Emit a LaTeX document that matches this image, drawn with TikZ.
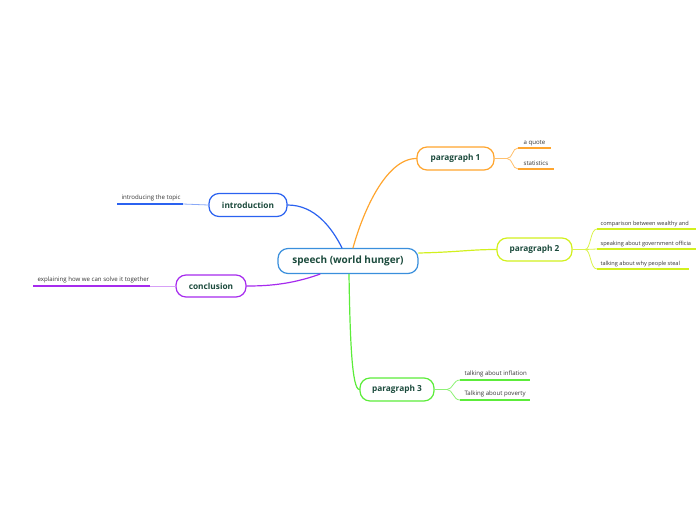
\documentclass[tikz,border=0pt]{standalone}
\usepackage{fontspec}
\setmainfont{Open Sans}
\definecolor{ink}{HTML}{1B4A3C}
\definecolor{leafink}{HTML}{333333}
\definecolor{cmain}{HTML}{3A8FDC}
\definecolor{cintro}{HTML}{2B62F0}
\definecolor{cconcl}{HTML}{A62BEE}
\definecolor{cpone}{HTML}{FFA52E}
\definecolor{cptwo}{HTML}{D2F01E}
\definecolor{cpthree}{HTML}{5CEC3A}

\begin{document}
\begin{tikzpicture}[x=1pt, y=-1pt, line width=1.2pt, line cap=round,
    topic/.style={draw, fill=white, rounded corners=10pt, minimum height=23pt,
      inner sep=0pt, text=ink, font=\bfseries\fontsize{8.3}{9}\selectfont},
    leaf/.style={anchor=base west, inner sep=0pt, text=leafink,
      font=\fontsize{6.1}{7}\selectfont},
    narrowleaf/.style={leaf, font=\fontsize{5.6}{7}\selectfont},
    under/.style={line width=1.8pt, line cap=butt},
    twig/.style={line width=0.8pt}]
      \useasboundingbox (0,0) rectangle (696,520);
      % main topics
      \node[topic, draw=cmain, minimum width=140pt, minimum height=25pt,
        font=\bfseries\fontsize{10}{11}\selectfont] (speech) at (348,261) {speech (world hunger)};
      \node[topic, draw=cintro, minimum width=78pt] (intro) at (248,205) {introduction};
      \node[topic, draw=cconcl, minimum width=70pt, minimum height=22pt] (concl) at (211,286) {conclusion};
      \node[topic, draw=cpone, minimum width=77pt] (pone) at (455.5,158.5) {paragraph 1};
      \node[topic, draw=cptwo, minimum width=75pt] (ptwo) at (534.5,249.5) {paragraph 2};
      \node[topic, draw=cpthree, minimum width=74pt] (pthree) at (397,389.5) {paragraph 3};
      % branches from the centre
      \draw[cintro] ([xshift=-6pt]speech.north) .. controls (332,228) and (315,205) .. (intro.east);
      \draw[cpone] ([xshift=5pt]speech.north) .. controls (362,215) and (385,158.5) .. (pone.west);
      \draw[cptwo] ([yshift=8pt]speech.east) .. controls (460,252) and (470,249.5) .. (ptwo.west);
      \draw[cpthree] ([xshift=1pt]speech.south) .. controls (350,340) and (352,389.5) .. (pthree.west);
      \draw[cconcl] ([xshift=-28pt]speech.south) .. controls (290,285) and (265,286) .. (concl.east);
      % paragraph 1
      \coordinate (pone-fork) at (507,158.5);
      \coordinate (quote-a) at (518,148);  \coordinate (quote-b) at (551,148);
      \coordinate (stats-a) at (518,169);  \coordinate (stats-b) at (554,169);
      \draw[twig, cpone!70] (pone.east) -- (pone-fork);
      \draw[twig, cpone!70] (pone-fork) .. controls (513,158.5) and (512,148) .. (quote-a);
      \draw[twig, cpone!70] (pone-fork) .. controls (513,158.5) and (512,169) .. (stats-a);
      \draw[under, cpone] (quote-a) -- (quote-b);
      \draw[under, cpone] (stats-a) -- (stats-b);
      \node[leaf] (quote) at (523,144.5) {a quote};
      \node[leaf] (stats) at (523,165.5) {statistics};
      % paragraph 2
      \coordinate (ptwo-fork) at (585,249.5);
      \coordinate (rich-a) at (597,229);   \coordinate (rich-b) at (696,229);
      \coordinate (gov-a) at (597,249);    \coordinate (gov-b) at (696,249);
      \coordinate (steal-a) at (597,269);  \coordinate (steal-b) at (689,269);
      \draw[twig, cptwo!80] (ptwo.east) -- (ptwo-fork);
      \draw[twig, cptwo!80] (ptwo-fork) .. controls (591,249.5) and (590,229) .. (rich-a);
      \draw[twig, cptwo!80] (ptwo-fork) -- (gov-a);
      \draw[twig, cptwo!80] (ptwo-fork) .. controls (591,249.5) and (590,269) .. (steal-a);
      \draw[under, cptwo] (rich-a) -- (rich-b);
      \draw[under, cptwo] (gov-a) -- (gov-b);
      \draw[under, cptwo] (steal-a) -- (steal-b);
      \node[narrowleaf] (rich) at (600,225) {comparison between wealthy and};
      \node[narrowleaf] (gov) at (600,245) {speaking about government officia};
      \node[narrowleaf] (steal) at (600,265) {talking about why people steal};
      % paragraph 3
      \coordinate (pthree-fork) at (447,389.5);
      \coordinate (infl-a) at (460,380);   \coordinate (infl-b) at (530,380);
      \coordinate (pov-a) at (460,400);    \coordinate (pov-b) at (530,400);
      \draw[twig, cpthree!70] (pthree.east) -- (pthree-fork);
      \draw[twig, cpthree!70] (pthree-fork) .. controls (453,389.5) and (453,380) .. (infl-a);
      \draw[twig, cpthree!70] (pthree-fork) .. controls (453,389.5) and (453,400) .. (pov-a);
      \draw[under, cpthree] (infl-a) -- (infl-b);
      \draw[under, cpthree] (pov-a) -- (pov-b);
      \node[leaf] (infl) at (464,375.5) {talking about inflation};
      \node[leaf] (pov) at (464,395.5) {Talking about poverty};
      % introduction
      \coordinate (topic-a) at (117,204);  \coordinate (topic-b) at (183,204);
      \draw[twig, cintro!55] (intro.west) -- (topic-b);
      \draw[under, cintro] (topic-b) -- (topic-a);
      \node[leaf] (topic) at (121,199.5) {introducing the topic};
      % conclusion
      \coordinate (solve-a) at (33,286);   \coordinate (solve-b) at (150,286);
      \draw[twig, cconcl!45] (concl.west) -- (solve-b);
      \draw[under, cconcl] (solve-b) -- (solve-a);
      \node[leaf] (solve) at (37,281.5) {explaining how we can solve it together};
    \end{tikzpicture}
\end{document}
